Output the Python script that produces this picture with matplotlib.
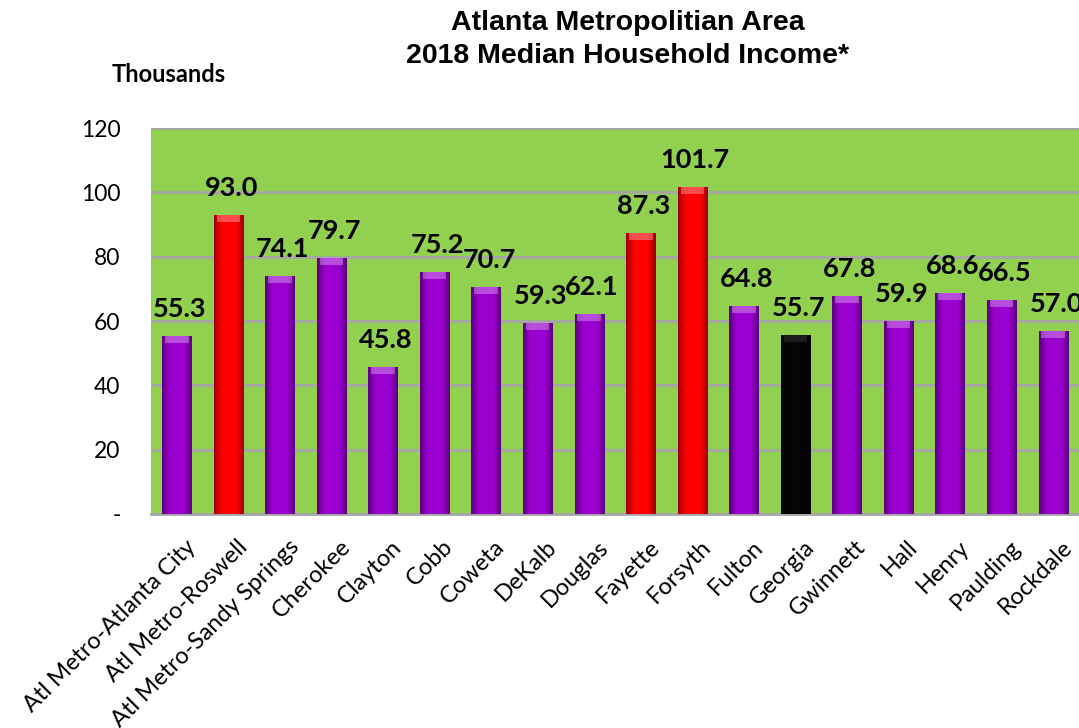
import numpy as np
import matplotlib
matplotlib.use("Agg")
import matplotlib.pyplot as plt
import matplotlib.transforms as mtransforms
from matplotlib.colors import LinearSegmentedColormap, to_rgb

areas = ["Atl Metro-Atlanta City", "Atl Metro-Roswell", "Atl Metro-Sandy Springs",
         "Cherokee", "Clayton", "Cobb", "Coweta", "DeKalb", "Douglas", "Fayette",
         "Forsyth", "Fulton", "Georgia", "Gwinnett", "Hall", "Henry", "Paulding",
         "Rockdale"]
income = [55.3, 93.0, 74.1, 79.7, 45.8, 75.2, 70.7, 59.3, 62.1, 87.3,
          101.7, 64.8, 55.7, 67.8, 59.9, 68.6, 66.5, 57.0]
highlight = ["Atl Metro-Roswell", "Fayette", "Forsyth"]

purple = "#9A00D0"
red = "#FF0000"
black = "#050505"

label_font = ["Lato", "DejaVu Sans"]

fig = plt.figure(figsize=(10.79, 7.28), dpi=100)
ax = fig.add_axes([0.140, 0.294, 0.860, 0.530])
ax.set_facecolor("#92D050")

x = np.arange(len(areas))
w = 0.57
colors = []
for a in areas:
    if a in highlight:
        colors.append(red)
    elif a == "Georgia":
        colors.append(black)
    else:
        colors.append(purple)


def shade(c, f):
    r, g, b = to_rgb(c)
    return (r * f, g * f, b * f)


bars = ax.bar(x, income, width=w, color=colors, zorder=3, linewidth=0)

# soft cylinder shading on each bar
for b, c in zip(bars, colors):
    cmap = LinearSegmentedColormap.from_list(
        "s", [shade(c, 0.6), c, c, c, shade(c, 0.6)])
    grad = np.linspace(0, 1, 64).reshape(1, -1)
    bx, by = b.get_x(), b.get_y()
    bw, bh = b.get_width(), b.get_height()
    im = ax.imshow(grad, cmap=cmap, aspect="auto", zorder=3.5,
                   extent=(bx, bx + bw, by, by + bh), interpolation="bilinear")
    im.set_clip_path(b)
    # lighter cap at top
    ax.bar(bx + bw / 2, 2.2, bottom=by + bh - 2.2, width=bw * 0.8,
           color="white" if c != black else "#555555", alpha=0.3, zorder=4,
           linewidth=0)

for xi, v in zip(x, income):
    ax.annotate(f"{v:.1f}", (xi, v), xytext=(2, 19.5), textcoords="offset points",
                ha="center", va="center", fontsize=19.5, fontweight="bold",
                family=label_font, zorder=5, annotation_clip=False)

ax.set_xlim(-0.5, len(areas) - 0.5)
ax.set_ylim(0, 120)
ax.set_yticks(range(0, 121, 20))
ax.set_yticklabels(["-"] + [str(t) for t in range(20, 121, 20)],
                   fontsize=16.5, family=label_font)
ax.yaxis.grid(True, color="#A6A6A6", linewidth=2, zorder=1)
ax.set_axisbelow(True)
ax.tick_params(axis="y", length=0, pad=22)
ax.tick_params(axis="x", length=0, pad=16)
ax.set_xticks(x)
ax.set_xticklabels(areas, rotation=45, ha="right", rotation_mode="anchor",
                   fontsize=17, family=label_font)
shift = mtransforms.ScaledTranslation(8 / 100, 0, fig.dpi_scale_trans)
for lab in ax.get_xticklabels():
    lab.set_transform(lab.get_transform() + shift)
for s in ["left", "right", "top"]:
    ax.spines[s].set_visible(False)
ax.spines["bottom"].set_color("#A6A6A6")
ax.spines["bottom"].set_linewidth(2)

fig.text(0.582, 0.986, "Atlanta Metropolitian Area\n2018 Median Household Income*",
         ha="center", va="top", fontsize=20.5, fontweight="bold",
         family="Liberation Sans", linespacing=1.35)
fig.text(0.103, 0.897, "Thousands", ha="left", va="center", fontsize=17,
         fontweight="bold", family=label_font)

fig.savefig("out.png", dpi=100)
